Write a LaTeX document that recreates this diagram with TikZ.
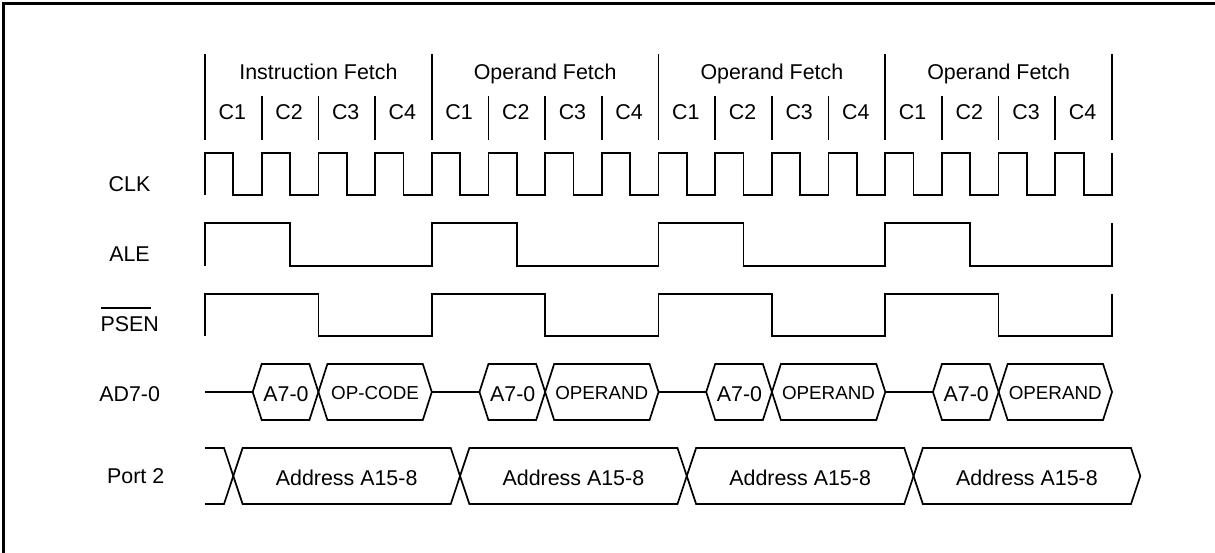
\documentclass[tikz,border=0pt]{standalone}
\usepackage{fontspec}
\setmainfont{Liberation Sans}
\begin{document}
\begin{tikzpicture}[x=1bp,y=-1bp,
  wave/.style={line width=1.7bp, line join=miter},
  frame/.style={line width=2.4bp},
  txt/.style={font=\fontsize{21.4bp}{24bp}\selectfont, inner sep=0pt, anchor=base},
  smalltxt/.style={font=\fontsize{18.8bp}{22bp}\selectfont, inner sep=0pt, anchor=base}]
\useasboundingbox (0,0) rectangle (1215,553);
\def\cw{56.6875}
% frame
\draw[frame] (3.5,553) -- (3.5,3.5) -- (1215,3.5);
% signal labels
\node[txt] (lclk) at (129.5,191.7) {CLK};
\node[txt] (lale) at (129.5,261.7) {ALE};
\node[txt] (lpsen) at (129.7,331.7) {PSEN};
\draw[line width=1.3bp] (101,308) -- (150.5,308);
\node[txt] (lad) at (129.7,401.7) {AD7-0};
\node[txt] (lport) at (135.7,483.3) {Port 2};
% header
\foreach \k in {0,...,4}{
  \pgfmathsetmacro{\s}{205+226.75*\k}
  \draw[wave] (\s,54) -- (\s,140);
}
\foreach \k/\t in {0/Instruction Fetch,1/Operand Fetch,2/Operand Fetch,3/Operand Fetch}{
  \pgfmathsetmacro{\s}{205+226.75*\k}
  \node[txt] (ph\k) at (\s+113.4,79.5) {\t};
  \foreach \j in {1,2,3}{
    \draw[wave] (\s+\j*\cw,96) -- (\s+\j*\cw,140);
  }
  \foreach \j in {0,...,3}{
    \pgfmathtruncatemacro{\n}{\j+1}
    \node[txt] (c\k\j) at (\s+\j*\cw+0.5*\cw-1,120) {C\n};
  }
}
% CLK
\draw[wave] (205,195)
  \foreach \i in {0,...,15}{
    -- (205+\i*\cw,195) -- (205+\i*\cw,153) -- (205+\i*\cw+0.5*\cw,153) -- (205+\i*\cw+0.5*\cw,195)
  } -- (1112,195) -- (1112,153);
% ALE
\draw[wave] (205,266)
  \foreach \k in {0,...,3}{
    -- (205+226.75*\k,266) -- (205+226.75*\k,223) -- (205+226.75*\k+1.5*\cw,223) -- (205+226.75*\k+1.5*\cw,266)
  } -- (1112,266) -- (1112,223);
% PSEN
\draw[wave] (205,336)
  \foreach \k in {0,...,3}{
    -- (205+226.75*\k,336) -- (205+226.75*\k,294) -- (205+226.75*\k+2*\cw,294) -- (205+226.75*\k+2*\cw,336)
  } -- (1112,336) -- (1112,294);
% AD7-0
\foreach \k/\t in {0/OP-CODE,1/OPERAND,2/OPERAND,3/OPERAND}{
  \pgfmathsetmacro{\s}{205+226.75*\k}
  \draw[wave] (\s,392) -- (\s+47.7,392);
  \draw[wave] (\s+47.7,392) -- (\s+56.7,364) -- (\s+104.4,364) -- (\s+113.4,392)
     -- (\s+104.4,420) -- (\s+56.7,420) -- cycle;
  \draw[wave] (\s+113.4,392) -- (\s+122.4,364) -- (\s+217.8,364) -- (\s+226.8,392)
     -- (\s+217.8,420) -- (\s+122.4,420) -- cycle;
  \node[txt] (a\k) at (\s+81,401.7) {A7-0};
  \node[smalltxt] (op\k) at (\s+170,399.5) {\t};
}
% Port 2
\draw[wave] (205,448) -- (224,448) -- (233.3,476) -- (224,504) -- (205,504);
\foreach \k in {0,...,3}{
  \pgfmathsetmacro{\s}{233.3+226.75*\k}
  \pgfmathsetmacro{\e}{233.3+226.75*(\k+1)}
  \draw[wave] (\s,476) -- (\s+9.3,448) -- (\e-9.3,448) -- (\e,476)
     -- (\e-9.3,504) -- (\s+9.3,504) -- cycle;
  \node[txt] (addr\k) at ({(\s+\e)/2},485) {Address A15-8};
}
\end{tikzpicture}
\end{document}
